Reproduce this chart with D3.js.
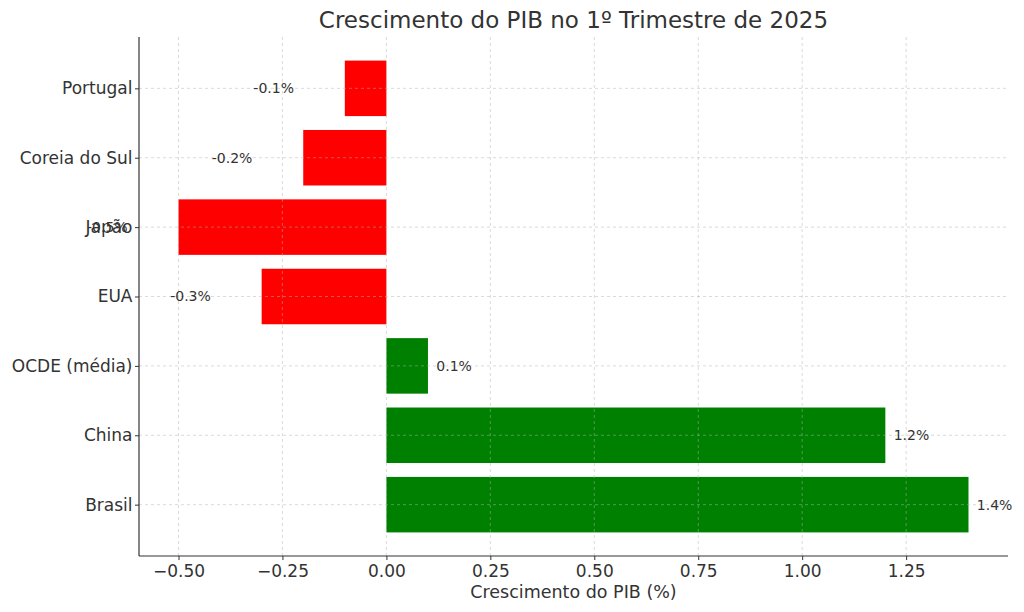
<!DOCTYPE html>
<html><head><meta charset="utf-8">
<script src="https://cdn.jsdelivr.net/npm/d3@7"></script>
<style>body{margin:0;background:#fff}svg{display:block}text{font-family:"DejaVu Sans",sans-serif}</style>
</head><body><svg id="c" width="1024" height="612"></svg>
<script>
const categories = ["Brasil","China","OCDE (média)","EUA","Japão","Coreia do Sul","Portugal"];
const values = [1.4,1.2,0.1,-0.3,-0.5,-0.2,-0.1];
const xTicks = [-0.5,-0.25,0,0.25,0.5,0.75,1.0,1.25];
const title = "Crescimento do PIB no 1º Trimestre de 2025";
const xLabel = "Crescimento do PIB (%)";

const svg = d3.select("#c");
const L=139,R=1008,T=37,B=556;
const x = d3.scaleLinear().domain([-0.595,1.495]).range([L,R]);
const y = d3.scaleLinear().domain([-0.74,6.74]).range([B,T]);
const bh = Math.abs(y(0.4)-y(-0.4));
const ink="#333";

// bars
svg.append("g").selectAll("rect").data(values).join("rect")
  .attr("x",d=>x(Math.min(0,d))).attr("width",d=>Math.abs(x(d)-x(0)))
  .attr("y",(d,i)=>y(i)-bh/2).attr("height",bh)
  .attr("fill",d=>d<0?"#ff0000":"#008000");

// grid
const g = svg.append("g").attr("stroke","#b0b0b0").attr("stroke-opacity",0.6).attr("stroke-dasharray","3,3").attr("stroke-width",0.8);
g.selectAll(".vx").data(xTicks).join("line").attr("x1",d=>x(d)).attr("x2",d=>x(d)).attr("y1",T).attr("y2",B);
g.selectAll(".hy").data(categories).join("line").attr("x1",L).attr("x2",R).attr("y1",(d,i)=>y(i)).attr("y2",(d,i)=>y(i));

// axes
const xa = svg.append("g").attr("transform",`translate(0,${B})`)
  .call(d3.axisBottom(x).tickValues(xTicks).tickFormat(d3.format(".2f")).tickSizeOuter(0).tickSize(4).tickPadding(5));
const ya = svg.append("g").attr("transform",`translate(${L},0)`)
  .call(d3.axisLeft(y).tickValues(d3.range(categories.length)).tickFormat(i=>categories[i]).tickSizeOuter(0).tickSize(4).tickPadding(2.5));
[xa,ya].forEach(a=>{
  a.select(".domain").attr("stroke",ink).attr("stroke-width",1.2);
  a.selectAll(".tick line").attr("stroke",ink);
  a.selectAll(".tick text").attr("fill",ink).style("font-size","17px").style("font-family","DejaVu Sans");
});
xa.select(".domain").attr("d",`M${L},0H${R}`);
ya.select(".domain").attr("d",`M0,${B}V${T}`);

// value labels
svg.append("g").selectAll("text").data(values).join("text")
  .attr("x",d=>x(d>=0?d+0.02:d-0.22)).attr("y",(d,i)=>y(i)).attr("dy","0.35em")
  .attr("fill",ink).style("font-size","14px").text(d=>d.toFixed(1)+"%");

svg.append("text").attr("x",(L+R)/2).attr("y",28).attr("text-anchor","middle")
  .attr("fill",ink).style("font-size","23px").text(title);
svg.append("text").attr("x",(L+R)/2).attr("y",598).attr("text-anchor","middle")
  .attr("fill",ink).style("font-size","17.5px").text(xLabel);
</script></body></html>
